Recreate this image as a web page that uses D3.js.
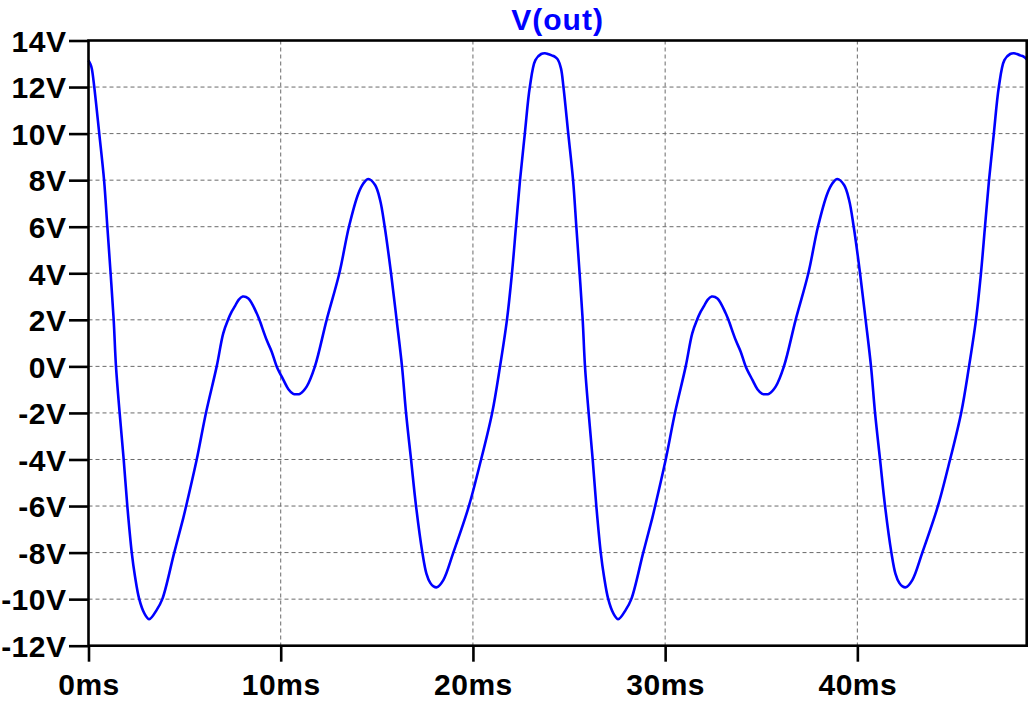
<!DOCTYPE html>
<html>
<head>
<meta charset="utf-8">
<script src="https://cdn.jsdelivr.net/npm/d3@7"></script>
<style>
  html, body { margin: 0; padding: 0; background: #ffffff; }
  svg { display: block; }
  text { font-family: "Liberation Sans", Arial, sans-serif; font-weight: bold; }
</style>
</head>
<body>
<svg id="chart" width="1032" height="704"></svg>
<script>
const title = "V(out)";
const xTicks = [0, 10, 20, 30, 40];
const yTicks = [-12, -10, -8, -6, -4, -2, 0, 2, 4, 6, 8, 10, 12, 14];
const xDomain = [0, 48.81];
const yDomain = [-12, 14];

const timeMs = [
  0, 0.09, 0.17, 0.30, 0.56, 0.81, 0.98, 1.15, 1.31, 1.43, 1.62, 1.83, 2.02, 2.25, 2.42, 2.64, 2.90, 3.16, 3.55, 3.84,
  4.46, 4.93, 5.08, 5.63, 6.11, 6.67, 7.01, 7.27, 7.45, 7.62, 7.80, 8.02, 8.32, 8.75, 8.89, 9.27, 9.53, 9.79, 10.14, 10.40, 10.65, 10.83, 11.00,
  11.35, 11.78, 12.39, 13.05, 13.55, 14.04, 14.30, 14.56, 14.91, 15.17, 15.41, 15.74, 16.03, 16.31, 16.52, 16.78, 17.04, 17.37, 17.58, 17.78, 17.95, 18.12,
  18.46, 18.98, 19.78, 20.33, 21.00, 21.41, 21.77, 22.03, 22.24, 22.45, 22.70, 22.96, 23.25, 23.55, 23.75, 23.90, 24.10, 24.27, 24.41,
  24.58, 24.71, 24.96, 25.21, 25.38, 25.55, 25.71, 25.83, 26.02, 26.23, 26.42, 26.65, 26.82, 27.04, 27.30, 27.56, 27.95, 28.24,
  28.86, 29.33, 29.48, 30.03, 30.51, 31.07, 31.41, 31.67, 31.85, 32.02, 32.20, 32.42, 32.72, 33.15, 33.29, 33.67, 33.93, 34.19, 34.54, 34.80, 35.05, 35.23, 35.40,
  35.75, 36.18, 36.79, 37.45, 37.95, 38.44, 38.70, 38.96, 39.31, 39.57, 39.81, 40.14, 40.43, 40.71, 40.92, 41.18, 41.44, 41.77, 41.98, 42.18, 42.35, 42.52,
  42.86, 43.38, 44.18, 44.73, 45.40, 45.81, 46.17, 46.43, 46.64, 46.85, 47.10, 47.36, 47.65, 47.95, 48.15, 48.30, 48.47, 48.67, 48.81
];
const vOut = [
  13.15, 13.0, 12.8, 12.0, 10.0, 8.0, 6.0, 4.0, 2.0, 0.0, -2.0, -4.0, -6.0, -8.0, -9.03, -10.0, -10.6, -10.86, -10.46, -10.0,
  -8.0, -6.52, -6.0, -4.0, -2.0, 0.0, 1.42, 2.02, 2.35, 2.59, 2.85, 3.0, 2.92, 2.28, 2.0, 1.13, 0.63, 0.0, -0.58, -0.98, -1.18, -1.2, -1.18,
  -0.87, 0.0, 2.0, 4.0, 6.0, 7.43, 7.86, 8.05, 7.79, 7.15, 6.0, 4.0, 2.0, 0.0, -2.0, -4.0, -6.0, -8.0, -8.9, -9.3, -9.45, -9.49,
  -9.18, -8.0, -6.03, -4.31, -2.0, 0.0, 2.0, 4.0, 6.0, 8.0, 10.0, 12.0, 13.16, 13.42, 13.45, 13.42, 13.36, 13.3, 13.19,
  12.8, 12.0, 10.0, 8.0, 6.0, 4.0, 2.0, 0.0, -2.0, -4.0, -6.0, -8.0, -9.03, -10.0, -10.6, -10.86, -10.46, -10.0,
  -8.0, -6.52, -6.0, -4.0, -2.0, 0.0, 1.42, 2.02, 2.35, 2.59, 2.85, 3.0, 2.92, 2.28, 2.0, 1.13, 0.63, 0.0, -0.58, -0.98, -1.18, -1.2, -1.18,
  -0.87, 0.0, 2.0, 4.0, 6.0, 7.43, 7.86, 8.05, 7.79, 7.15, 6.0, 4.0, 2.0, 0.0, -2.0, -4.0, -6.0, -8.0, -8.9, -9.3, -9.45, -9.49,
  -9.18, -8.0, -6.03, -4.31, -2.0, 0.0, 2.0, 4.0, 6.0, 8.0, 10.0, 12.0, 13.16, 13.42, 13.45, 13.42, 13.36, 13.3, 13.19
];

const margin = { top: 40.5, right: 5.3, bottom: 58.3, left: 88.5 };
const W = 1032, H = 704;
const iw = W - margin.left - margin.right;
const ih = H - margin.top - margin.bottom;

const svg = d3.select("#chart");
const g = svg.append("g").attr("transform", `translate(${margin.left},${margin.top})`);

const x = d3.scaleLinear().domain(xDomain).range([0, iw]);
const y = d3.scaleLinear().domain(yDomain).range([ih, 0]);

// grid
g.append("g").selectAll("line.hg")
  .data(yTicks.filter(v => v > yDomain[0] && v < yDomain[1]))
  .join("line")
  .attr("x1", 0).attr("x2", iw)
  .attr("y1", d => y(d)).attr("y2", d => y(d))
  .attr("stroke", "#6a6a6a").attr("stroke-width", 1).attr("stroke-dasharray", "4,3");
g.append("g").selectAll("line.vg")
  .data(xTicks.filter(v => v > xDomain[0]))
  .join("line")
  .attr("x1", d => x(d)).attr("x2", d => x(d))
  .attr("y1", 0).attr("y2", ih)
  .attr("stroke", "#6a6a6a").attr("stroke-width", 1).attr("stroke-dasharray", "4,3");

// data line
const pts = timeMs.map((t, i) => [t, vOut[i]]);
const line = d3.line().x(d => x(d[0])).y(d => y(d[1])).curve(d3.curveCatmullRom.alpha(0.5));
g.append("path")
  .datum(pts)
  .attr("d", line)
  .attr("fill", "none")
  .attr("stroke", "#0000ff")
  .attr("stroke-width", 2.6)
  .attr("stroke-linejoin", "round");

// frame
g.append("rect")
  .attr("x", 0).attr("y", 0).attr("width", iw).attr("height", ih)
  .attr("fill", "none").attr("stroke", "#000").attr("stroke-width", 2.6);

// axes
const yAxis = d3.axisLeft(y).tickValues(yTicks).tickSize(19.5).tickPadding(2.5)
  .tickFormat(d => d + "V");
const ya = g.append("g").call(yAxis);
ya.select(".domain").remove();
ya.selectAll(".tick line").attr("stroke", "#000").attr("stroke-width", 2.6);
ya.selectAll(".tick text").attr("fill", "#000").style("font-size", "30px")
  .style("letter-spacing", "0.5px").attr("dy", "0.36em");

const xAxis = d3.axisBottom(x).tickValues(xTicks).tickSize(16).tickPadding(12)
  .tickFormat(d => d + "ms");
const xa = g.append("g").attr("transform", `translate(0,${ih})`).call(xAxis);
xa.select(".domain").remove();
xa.selectAll(".tick line").attr("stroke", "#000").attr("stroke-width", 2.6);
xa.selectAll(".tick text").attr("fill", "#000").style("font-size", "30px")
  .style("letter-spacing", "0.5px");

// title
svg.append("text")
  .attr("x", margin.left + iw / 2)
  .attr("y", 30)
  .attr("text-anchor", "middle")
  .attr("fill", "#0000ff")
  .style("font-size", "30px")
  .style("letter-spacing", "1px")
  .text(title);
</script>
</body>
</html>
